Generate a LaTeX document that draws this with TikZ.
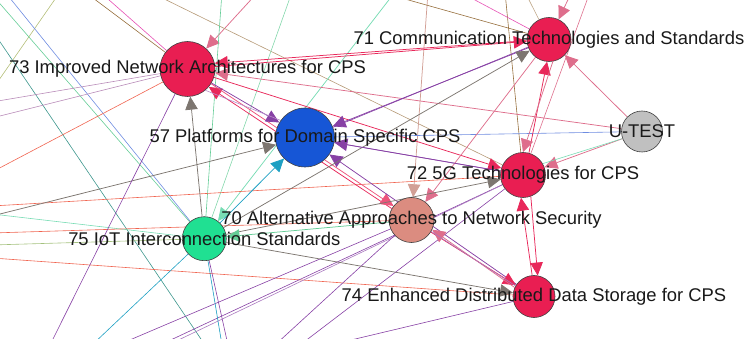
\documentclass[tikz,border=0pt]{standalone}
\usepackage{fontspec}
\setmainfont{Liberation Sans}
\usetikzlibrary{arrows.meta,backgrounds}

\definecolor{cpsred}{RGB}{233,30,82}
\definecolor{platblue}{RGB}{22,86,214}
\definecolor{testgrey}{RGB}{192,192,192}
\definecolor{secsalmon}{RGB}{219,140,128}
\definecolor{iotgreen}{RGB}{32,224,146}
\definecolor{ered}{RGB}{232,40,90}
\definecolor{epink}{RGB}{222,110,140}
\definecolor{epurple}{RGB}{135,65,165}
\definecolor{egrey}{RGB}{125,118,112}
\definecolor{ecyan}{RGB}{30,160,195}
\definecolor{egreen}{RGB}{100,205,150}
\definecolor{etan}{RGB}{210,160,150}
\definecolor{ebrown}{RGB}{150,110,60}
\definecolor{eorange}{RGB}{240,100,80}
\definecolor{eteal}{RGB}{60,150,140}
\definecolor{emint}{RGB}{120,220,180}
\definecolor{eolive}{RGB}{180,190,120}
\definecolor{emagenta}{RGB}{230,80,180}
\definecolor{eblue}{RGB}{110,140,225}
\definecolor{emauve}{RGB}{185,140,185}

\begin{document}
\begin{tikzpicture}[x=1pt,y=-1pt]
 \tikzstyle{topic}=[circle,draw=black!75,line width=0.6pt,inner sep=0pt]
 \tikzstyle{caption}=[text=black!90,font=\fontsize{18.4}{22}\selectfont,inner sep=0pt]
 \tikzstyle{link}=[line width=0.6pt]
 \tikzstyle{arrowed}=[line width=0.75pt,-{Triangle[length=13pt,width=12.5pt]}]
 \useasboundingbox (0,0) rectangle (747,339);

 % topic nodes
 \node[topic,fill=cpsred,minimum size=55pt] at (187.5,69) (n73) {};
 \node[topic,fill=cpsred,minimum size=44pt] at (549,39.5) (n71) {};
 \node[topic,fill=platblue,minimum size=59pt] at (305,137.5) (n57) {};
 \node[topic,fill=testgrey,minimum size=41pt] at (642,131.5) (ntest) {};
 \node[topic,fill=cpsred,minimum size=45pt] at (523,175) (n72) {};
 \node[topic,fill=secsalmon,minimum size=45pt] at (411.5,220) (n70) {};
 \node[topic,fill=iotgreen,minimum size=44pt] at (204.3,238.7) (n75) {};
 \node[topic,fill=cpsred,minimum size=42pt] at (534,296.5) (n74) {};

 % far ends of links leaving the frame
 \coordinate (top1) at (85,-8);   \coordinate (top2) at (100,-8);
 \coordinate (top3) at (258,-8);  \coordinate (top4) at (150,-8);
 \coordinate (top5) at (222,-8);  \coordinate (top6) at (292,-8);
 \coordinate (top7) at (428,-8);  \coordinate (top8) at (505,-8);
 \coordinate (top9) at (525,-8);  \coordinate (top10) at (590,-8);
 \coordinate (top11) at (575,-15);\coordinate (top12) at (460,-8);
 \coordinate (top13) at (380,-8); \coordinate (top14) at (395,-8);
 \coordinate (top15) at (60,-8);
 \coordinate (lft1) at (-5,-2);   \coordinate (lft2) at (5,-8);
 \coordinate (lft3) at (-8,30);   \coordinate (lft4) at (-8,102);
 \coordinate (lft5) at (-8,118);  \coordinate (lft6) at (-8,172);
 \coordinate (lft7) at (-8,206);  \coordinate (lft8) at (-8,216);
 \coordinate (lft9) at (-8,214);  \coordinate (lft10) at (-8,233);
 \coordinate (lft11) at (-8,245); \coordinate (lft12) at (-8,258);
 \coordinate (lft13) at (-8,90);
 \coordinate (bot1) at (50,345);  \coordinate (bot2) at (92,345);
 \coordinate (bot3) at (118,345); \coordinate (bot4) at (160,345);
 \coordinate (bot5) at (168,345); \coordinate (bot6) at (222,345);
 \coordinate (bot7) at (275,345); \coordinate (bot8) at (300,345);
 \coordinate (bot9) at (330,345); \coordinate (bot10) at (205,345);
 \coordinate (bot11) at (228,345);

 \begin{scope}[on background layer]
  \clip (0,0) rectangle (747,339);
  % links running off the frame
  \draw[link,ebrown] (top1) -- (n73);
  \draw[link,emagenta] (top2) -- (n73);
  \draw[epink,arrowed] (top3) -- (n73);
  \draw[link,ebrown!70] (top4) -- (n72);
  \draw[link,egreen] (top5) -- (n75);
  \draw[link,egreen!80] (top6) -- (n75);
  \draw[etan,arrowed] (top7) -- (n70);
  \draw[link,ebrown] (top8) -- (n72);
  \draw[link,ebrown!60] (top9) -- (n71);
  \draw[link,epink] (top10) -- (n72);
  \draw[epink,arrowed] (top11) -- (n71);
  \draw[link,emagenta] (top12) -- (n71);
  \draw[link,ebrown] (top13) -- (n71);
  \draw[emint,arrowed] (top14) -- (n75);
  \draw[link,eolive] (top15) -- (lft13);
  \draw[link,egreen] (lft1) -- (n75);
  \draw[link,eblue] (lft2) -- (n75);
  \draw[link,eteal] (lft3) -- (bot10);
  \draw[link,emauve] (lft4) -- (n73);
  \draw[link,emauve] (lft5) -- (n73);
  \draw[link,eorange] (lft6) -- (n73);
  \draw[link,eorange] (lft7) -- (n72);
  \draw[egrey,arrowed] (lft8) -- (n57);
  \draw[link,emint] (lft9) -- (n75);
  \draw[link,eorange] (lft10) -- (n70);
  \draw[link,eolive!80!egreen] (lft11) -- (n75);
  \draw[link,eorange] (lft12) -- (n74);
  \draw[link,epurple] (bot1) -- (n73);
  \draw[link,ecyan] (bot2) -- (n75);
  \draw[link,epurple] (bot3) -- (n70);
  \draw[link,epurple] (bot4) -- (n72);
  \draw[link,epurple!70] (bot5) -- (n72);
  \draw[link,ecyan] (bot6) -- (n75);
  \draw[link,epurple] (bot11) -- (n75);
  \draw[link,epurple] (bot7) -- (n70);
  \draw[link,epurple] (bot8) -- (n72);
  \draw[link,epurple] (bot9) -- (n74);

  % links between the topics
  \draw[ered,arrowed] (n73.5) -- (n71);
  \draw[ered,arrowed] (n71.183) -- (n73.12);
  \draw[epink,arrowed] (ntest) -- (n73);
  \draw[ered,arrowed] (n70.150) -- (n73.-40);
  \draw[ered!80,arrowed] (n73.-32) -- (n70.142);
  \draw[ered,arrowed] (n73) -- (n72);
  \draw[epurple,arrowed] (n73) -- (n57);
  \draw[link,epurple!60] (n73.-50) -- (n57.145);
  \draw[egrey,arrowed] (n75) -- (n73);
  \draw[ecyan,arrowed] (n75) -- (n57);
  \draw[epurple,arrowed] (n71) -- (n57);
  \draw[link,epurple] (n71.200) -- (n57.20);
  \draw[epurple,arrowed] (n72) -- (n57);
  \draw[epurple,arrowed] (n74) -- (n57);
  \draw[link,eblue] (ntest) -- (n57);
  \draw[epink,arrowed] (ntest) -- (n71);
  \draw[epink,arrowed] (ntest) -- (n72);
  \draw[link,emint] (ntest.200) -- (n72.30);
  \draw[ered,arrowed] (n72.75) -- (n71.-95);
  \draw[epink,arrowed] (n71.-80) -- (n72.90);
  \draw[ered,arrowed] (n74.95) -- (n72.-95);
  \draw[ered,arrowed] (n72.-70) -- (n74.80);
  \draw[ered,arrowed] (n70) -- (n74);
  \draw[epink,arrowed] (n74.155) -- (n70.-25);
  \draw[link,epurple!70] (n70.-30) -- (n74.150);
  \draw[epink,arrowed] (n71) -- (n70);
  \draw[egrey,arrowed] (n75) -- (n74);
  \draw[egrey,arrowed] (n75) -- (n72);
  \draw[egrey,arrowed] (n75) -- (n71);
  \draw[egreen,arrowed] (n70) -- (n75);
  \draw[link,epurple] (n57) -- (n72);
 \end{scope}

 % topic captions
 \node[caption] at (187.5,69) (l73) {73 Improved Network Architectures for CPS};
 \node[caption] at (549,39.5) (l71) {71 Communication Technologies and Standards};
 \node[caption] at (305,137.5) (l57) {57 Platforms for Domain Specific CPS};
 \node[caption] at (642,131.5) (ltest) {U-TEST};
 \node[caption] at (523,175) (l72) {72 5G Technologies for CPS};
 \node[caption] at (411.5,220) (l70) {70 Alternative Approaches to Network Security};
 \node[caption] at (204.3,238.7) (l75) {75 IoT Interconnection Standards};
 \node[caption] at (534,296.5) (l74) {74 Enhanced Distributed Data Storage for CPS};
\end{tikzpicture}
\end{document}
